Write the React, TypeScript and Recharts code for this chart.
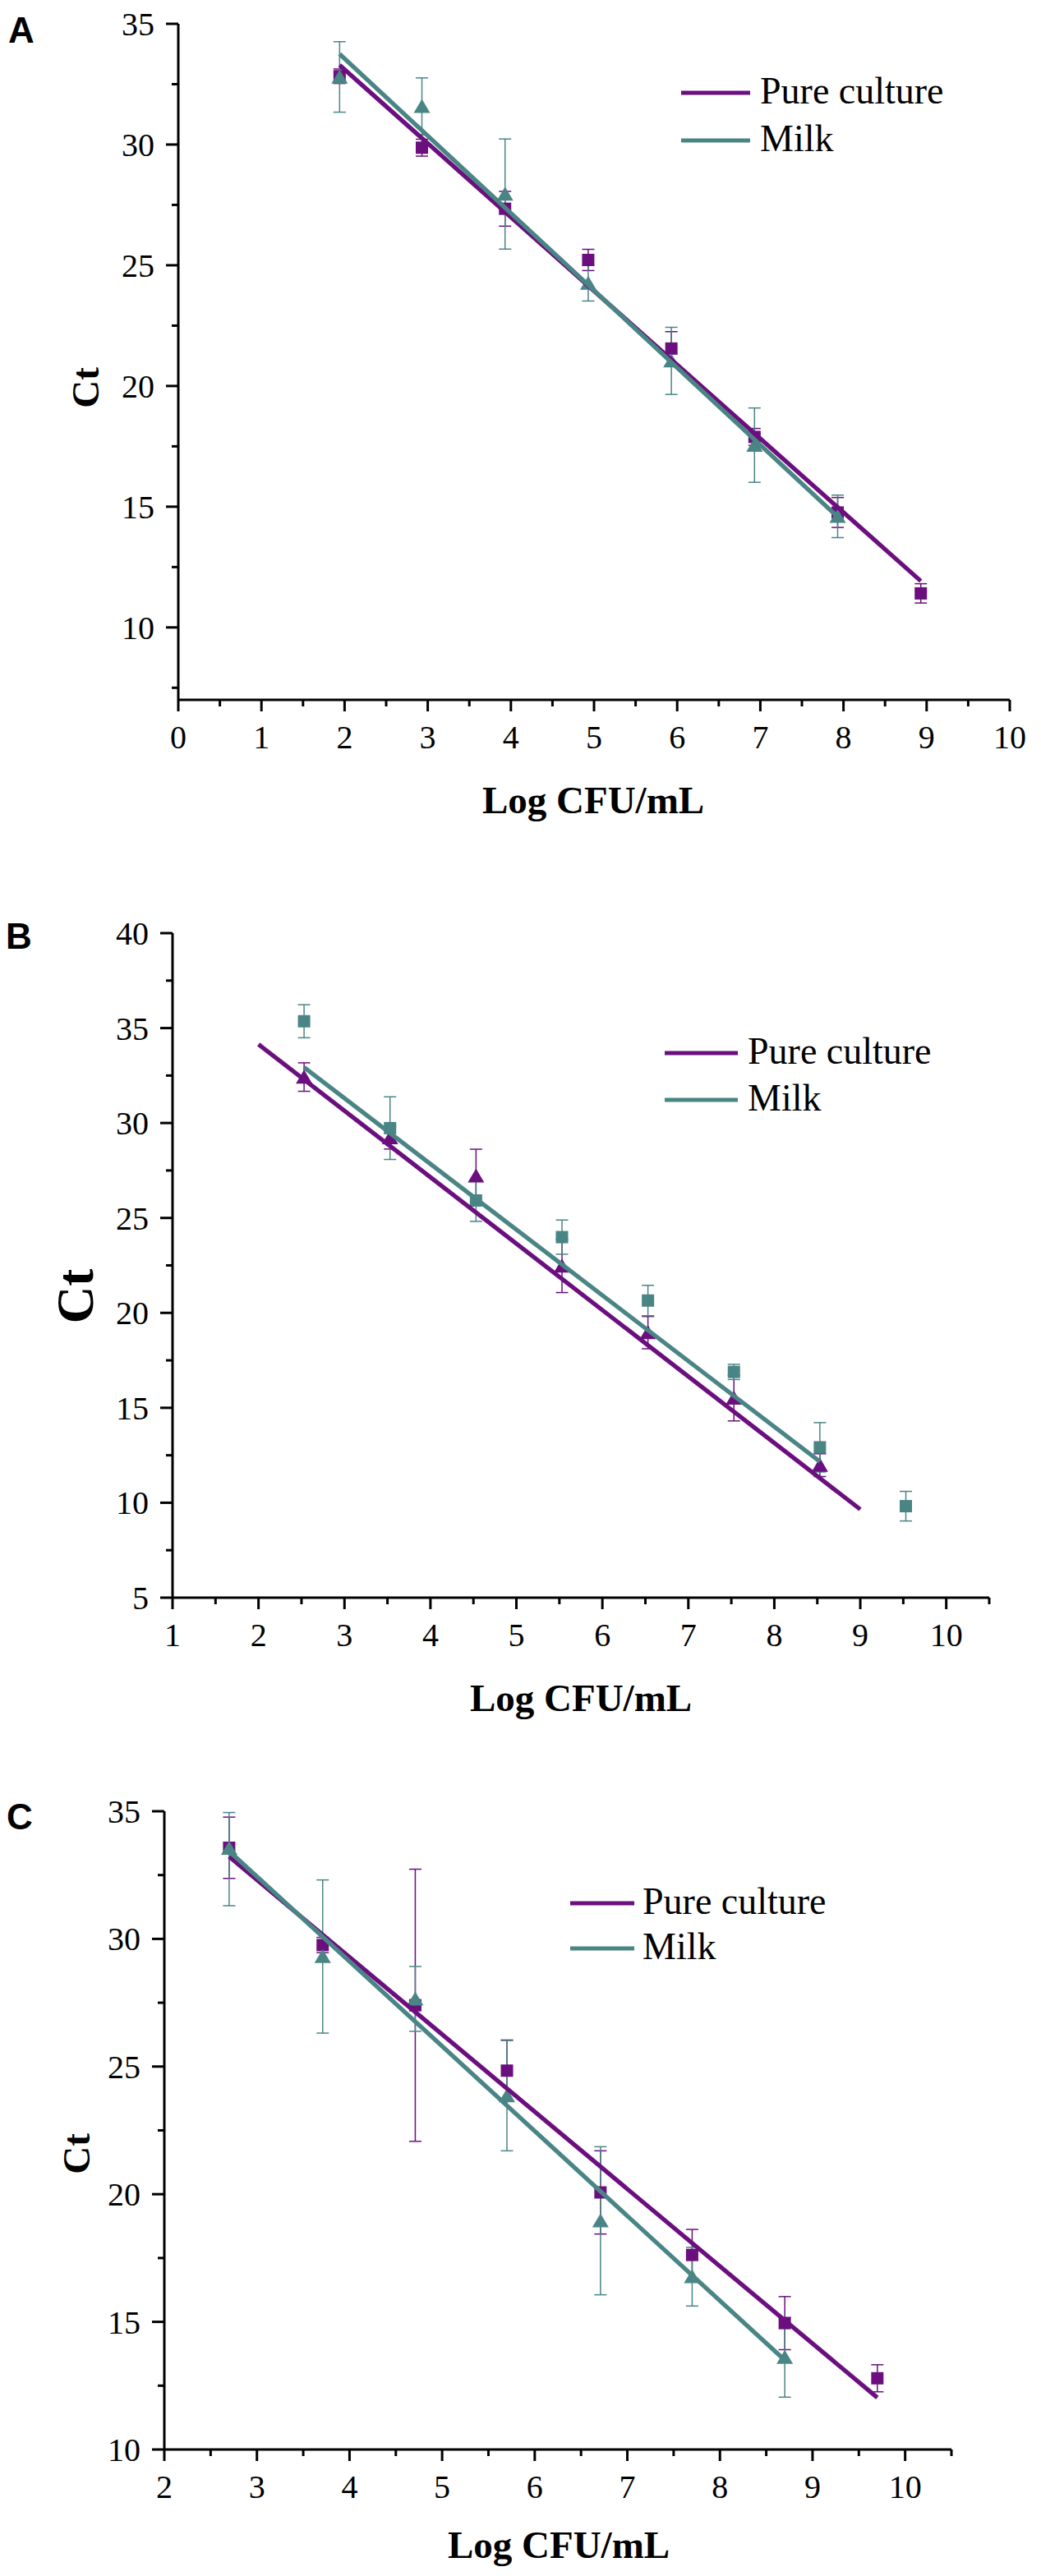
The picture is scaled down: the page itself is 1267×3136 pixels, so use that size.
import { ScatterChart, Scatter, XAxis, YAxis, ErrorBar } from 'recharts';

const W = 1267;
const PURPLE = '#6b0f7e';
const TEAL = '#4a8585';
const SERIF = '"Liberation Serif", "Times New Roman", serif';
const SANS = '"Liberation Sans", Arial, sans-serif';

// ---- Panel A ----
const aPureX = [1.94, 2.93, 3.93, 4.93, 5.93, 6.93, 7.93, 8.93];
const aPureCt = [32.83, 29.87, 27.34, 25.22, 21.55, 17.89, 14.76, 11.41];
const aPureErr = [0.3, 0.35, 0.72, 0.44, 0.7, 0.35, 0.62, 0.4];
const aMilkX = [1.94, 2.93, 3.93, 4.93, 5.93, 6.93, 7.93];
const aMilkCt = [32.8, 31.58, 27.95, 24.26, 21.04, 17.55, 14.6];
const aMilkErr = [1.46, 1.18, 2.28, 0.74, 1.39, 1.54, 0.88];
const aPureFitX = [1.94, 8.93];
const aPureFitCt = [33.29, 11.92];
const aMilkFitX = [1.94, 7.93];
const aMilkFitCt = [33.75, 14.58];
const aXTicks = [0, 0.5, 1, 1.5, 2, 2.5, 3, 3.5, 4, 4.5, 5, 5.5, 6, 6.5, 7, 7.5, 8, 8.5, 9, 9.5, 10];
const aYTicks = [7.5, 10, 12.5, 15, 17.5, 20, 22.5, 25, 27.5, 30, 32.5, 35];

// ---- Panel B ----
const bPureX = [2.53, 3.53, 4.53, 5.53, 6.53, 7.53, 8.53];
const bPureCt = [32.42, 29.23, 27.22, 22.47, 18.96, 15.51, 11.98];
const bPureErr = [0.75, 0.6, 1.4, 1.4, 0.85, 1.2, 0.6];
const bMilkX = [2.53, 3.53, 4.53, 5.53, 6.53, 7.53, 8.53, 9.53];
const bMilkCt = [35.36, 29.73, 25.92, 23.99, 20.65, 16.89, 12.92, 9.82];
const bMilkErr = [0.87, 1.65, 1.1, 0.9, 0.8, 0.4, 1.3, 0.78];
const bPureFitX = [2.0, 9.0];
const bPureFitCt = [34.14, 9.65];
const bMilkFitX = [2.53, 8.53];
const bMilkFitCt = [32.93, 12.17];
const bXTicks = [1, 1.5, 2, 2.5, 3, 3.5, 4, 4.5, 5, 5.5, 6, 6.5, 7, 7.5, 8, 8.5, 9, 9.5, 10, 10.5];
const bYTicks = [5, 7.5, 10, 12.5, 15, 17.5, 20, 22.5, 25, 27.5, 30, 32.5, 35, 37.5, 40];

// ---- Panel C ----
const cPureX = [2.7, 3.71, 4.71, 5.7, 6.71, 7.7, 8.7, 9.7];
const cPureCt = [33.57, 29.76, 27.4, 24.84, 20.07, 17.62, 14.95, 12.79];
const cPureErr = [1.2, 0.3, 5.33, 1.2, 1.63, 1.0, 1.04, 0.53];
const cMilkX = [2.7, 3.71, 4.71, 5.7, 6.71, 7.7, 8.7];
const cMilkCt = [33.55, 29.31, 27.65, 23.86, 18.96, 16.77, 13.61];
const cMilkErr: (number | number[])[] = [[2.25, 1.4], 3.0, 1.27, 2.16, 2.9, 1.15, 1.56];
const cPureFitX = [2.7, 9.7];
const cPureFitCt = [33.22, 12.03];
const cMilkFitX = [2.7, 8.7];
const cMilkFitCt = [33.44, 13.5];
const cXTicks = [2, 2.5, 3, 3.5, 4, 4.5, 5, 5.5, 6, 6.5, 7, 7.5, 8, 8.5, 9, 9.5, 10, 10.5];
const cYTicks = [10, 12.5, 15, 17.5, 20, 22.5, 25, 27.5, 30, 32.5, 35];

const legendNames = ['Pure culture', 'Milk'];

type Marker = 'square' | 'triangle';

interface SeriesDef {
  name: string;
  xs: number[];
  ys: number[];
  errs: (number | number[])[];
  fitX: number[];
  fitY: number[];
  color: string;
  marker: Marker;
}

interface PanelDef {
  letter: string;
  top: number;
  height: number;
  plotTop: number;
  plotBottom: number;
  plotLeft: number;
  plotRight: number;
  xDomain: [number, number];
  xTicks: number[];
  yDomain: [number, number];
  yTicks: number[];
  series: SeriesDef[];
  letterPos: [number, number];
  ctPos: [number, number];
  ctSize: number;
  titlePos: [number, number];
  legendX: [number, number, number];
  legendY: [number, number];
}

function toPoints(xs: number[], ys: number[], errs?: (number | number[])[]) {
  return xs.map((x, i) => ({ x, y: ys[i], err: errs ? errs[i] : 0 }));
}

const AXIS_LINE = { stroke: '#000', strokeWidth: 3 };

function XTick(props: any) {
  const { x, y, payload } = props;
  const v = payload.value as number;
  const major = Number.isInteger(v);
  return (
    <g>
      <line x1={x} y1={y} x2={x} y2={y + (major ? 14 : 8)} stroke="#000" strokeWidth={3} />
      {major && (
        <text x={x} y={y + 59} textAnchor="middle" fontSize={40} fontFamily={SERIF} fill="#000">
          {v}
        </text>
      )}
    </g>
  );
}

function YTick(props: any) {
  const { x, y, payload } = props;
  const v = payload.value as number;
  const major = v % 5 === 0;
  return (
    <g>
      <line x1={x - (major ? 15 : 8)} y1={y} x2={x} y2={y} stroke="#000" strokeWidth={3} />
      {major && (
        <text x={x - 29} y={y + 14} textAnchor="end" fontSize={40} fontFamily={SERIF} fill="#000">
          {v}
        </text>
      )}
    </g>
  );
}

function markerShape(marker: Marker, color: string) {
  return (props: any) => {
    const { cx, cy } = props;
    if (cx == null || cy == null) return <g />;
    if (marker === 'square') {
      return <rect x={cx - 7.5} y={cy - 7.5} width={15} height={15} fill={color} />;
    }
    return (
      <polygon
        points={`${cx},${cy - 9} ${cx - 10},${cy + 8} ${cx + 10},${cy + 8}`}
        fill={color}
      />
    );
  };
}

const noShape = () => <g />;

function Panel({ p }: { p: PanelDef }) {
  const [ctX, ctY] = p.ctPos;
  const capH = p.ctSize * 0.66;
  return (
    <div style={{ position: 'absolute', left: 0, top: p.top, width: W, height: p.height }}>
      <ScatterChart
        width={W}
        height={p.height}
        margin={{ top: p.plotTop, right: W - p.plotRight, bottom: 0, left: 0 }}
      >
        <XAxis
          type="number"
          dataKey="x"
          domain={p.xDomain}
          ticks={p.xTicks}
          interval={0}
          allowDataOverflow
          tick={XTick}
          tickLine={false}
          tickSize={0}
          tickMargin={0}
          axisLine={AXIS_LINE}
          height={p.height - p.plotBottom}
        />
        <YAxis
          type="number"
          dataKey="y"
          domain={p.yDomain}
          ticks={p.yTicks}
          interval={0}
          allowDataOverflow
          tick={YTick}
          tickLine={false}
          tickSize={0}
          tickMargin={0}
          axisLine={AXIS_LINE}
          width={p.plotLeft}
        />
        {p.series.map((s) => (
          <Scatter
            key={s.name + '-pts'}
            name={s.name}
            data={toPoints(s.xs, s.ys, s.errs)}
            shape={markerShape(s.marker, s.color)}
            isAnimationActive={false}
          >
            <ErrorBar
              dataKey="err"
              direction="y"
              width={7.5}
              stroke={s.color}
              strokeWidth={1.5}
              isAnimationActive={false}
            />
          </Scatter>
        ))}
        {p.series.map((s) => (
          <Scatter
            key={s.name + '-fit'}
            name={s.name + ' fit'}
            data={toPoints(s.fitX, s.fitY)}
            line={{ stroke: s.color, strokeWidth: 5.3 }}
            shape={noShape}
            isAnimationActive={false}
          />
        ))}
      </ScatterChart>
      <svg
        width={W}
        height={p.height}
        style={{ position: 'absolute', left: 0, top: 0, pointerEvents: 'none' }}
      >
        <text x={p.letterPos[0]} y={p.letterPos[1]} fontSize={44} fontWeight="bold" fontFamily={SANS} fill="#000">
          {p.letter}
        </text>
        <text
          transform={`translate(${ctX + capH / 2}, ${ctY}) rotate(-90)`}
          textAnchor="middle"
          fontSize={p.ctSize}
          fontWeight="bold"
          fontFamily={SERIF}
          fill="#000"
        >
          Ct
        </text>
        <text
          x={p.titlePos[0]}
          y={p.titlePos[1]}
          textAnchor="middle"
          fontSize={47}
          fontWeight="bold"
          fontFamily={SERIF}
          fill="#000"
        >
          Log CFU/mL
        </text>
        {p.series.map((s, i) => (
          <g key={s.name + '-legend'}>
            <line
              x1={p.legendX[0]}
              x2={p.legendX[1]}
              y1={p.legendY[i]}
              y2={p.legendY[i]}
              stroke={s.color}
              strokeWidth={5}
            />
            <text x={p.legendX[2]} y={p.legendY[i] + 13} fontSize={46} fontFamily={SERIF} fill="#000">
              {legendNames[i]}
            </text>
          </g>
        ))}
      </svg>
    </div>
  );
}

const panels: PanelDef[] = [
  {
    letter: 'A',
    top: 0,
    height: 1010,
    plotTop: 29,
    plotBottom: 852,
    plotLeft: 217,
    plotRight: 1229,
    xDomain: [0, 10],
    xTicks: aXTicks,
    yDomain: [7, 35],
    yTicks: aYTicks,
    series: [
      { name: 'Pure culture', xs: aPureX, ys: aPureCt, errs: aPureErr, fitX: aPureFitX, fitY: aPureFitCt, color: PURPLE, marker: 'square' },
      { name: 'Milk', xs: aMilkX, ys: aMilkCt, errs: aMilkErr, fitX: aMilkFitX, fitY: aMilkFitCt, color: TEAL, marker: 'triangle' },
    ],
    letterPos: [10, 52],
    ctPos: [104, 472],
    ctSize: 47,
    titlePos: [722, 990],
    legendX: [829, 913, 925],
    legendY: [113, 171],
  },
  {
    letter: 'B',
    top: 1100,
    height: 1000,
    plotTop: 36,
    plotBottom: 845,
    plotLeft: 210,
    plotRight: 1204,
    xDomain: [1, 10.5],
    xTicks: bXTicks,
    yDomain: [5, 40],
    yTicks: bYTicks,
    series: [
      { name: 'Pure culture', xs: bPureX, ys: bPureCt, errs: bPureErr, fitX: bPureFitX, fitY: bPureFitCt, color: PURPLE, marker: 'triangle' },
      { name: 'Milk', xs: bMilkX, ys: bMilkCt, errs: bMilkErr, fitX: bMilkFitX, fitY: bMilkFitCt, color: TEAL, marker: 'square' },
    ],
    letterPos: [7, 55],
    ctPos: [92, 478],
    ctSize: 63,
    titlePos: [707, 983],
    legendX: [809, 898, 910],
    legendY: [182, 239],
  },
  {
    letter: 'C',
    top: 2150,
    height: 986,
    plotTop: 55,
    plotBottom: 832,
    plotLeft: 200,
    plotRight: 1158,
    xDomain: [2, 10.5],
    xTicks: cXTicks,
    yDomain: [10, 35],
    yTicks: cYTicks,
    series: [
      { name: 'Pure culture', xs: cPureX, ys: cPureCt, errs: cPureErr, fitX: cPureFitX, fitY: cPureFitCt, color: PURPLE, marker: 'square' },
      { name: 'Milk', xs: cMilkX, ys: cMilkCt, errs: cMilkErr, fitX: cMilkFitX, fitY: cMilkFitCt, color: TEAL, marker: 'triangle' },
    ],
    letterPos: [8, 77],
    ctPos: [93, 472],
    ctSize: 47,
    titlePos: [680, 964],
    legendX: [694, 772, 782],
    legendY: [167, 222],
  },
];

export default function App() {
  return (
    <div style={{ position: 'absolute', left: 0, top: 0, width: W, height: 3136, background: '#fff' }}>
      {panels.map((p) => (
        <Panel key={p.letter} p={p} />
      ))}
    </div>
  );
}
